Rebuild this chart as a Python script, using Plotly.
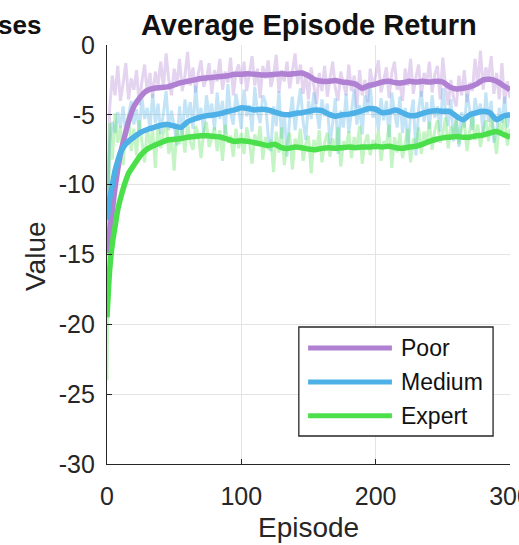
import plotly.graph_objects as go

# ---- data -----------------------------------------------------------------
# smoothed returns (episode grid for the thick curves)
smooth_episodes = [0, 2, 4, 6, 8, 10, 13, 16, 20, 25, 30, 35, 40, 45, 50, 55, 60,
                   65, 70, 75, 80, 85, 90, 95, 100, 105, 110, 115, 120, 125, 130,
                   135, 140, 145, 150, 155, 160, 165, 170, 175, 180, 185, 190, 195,
                   200, 205, 210, 215, 220, 225, 230, 235, 240, 245, 250, 255, 260,
                   265, 270, 275, 280, 285, 290, 295, 300]

poor_smooth = [-14.9, -13.3, -11.8, -10.2, -8.9, -7.8, -6.6, -5.5, -4.4, -3.7, -3.25,
               -3.1, -3.05, -3.0, -2.85, -2.7, -2.6, -2.5, -2.4, -2.35, -2.3, -2.25,
               -2.2, -2.1, -2.1, -2.05, -2.1, -2.15, -2.15, -2.1, -2.05, -2.1, -2.05,
               -2.0, -2.2, -2.5, -2.6, -2.6, -2.55, -2.65, -2.7, -2.8, -3.1, -2.9,
               -2.8, -2.65, -2.6, -2.7, -2.7, -2.6, -2.65, -2.6, -2.65, -2.6, -2.65,
               -3.0, -3.15, -3.1, -3.0, -2.8, -2.5, -2.45, -2.6, -2.9, -3.2]

medium_smooth = [-12.5, -11.0, -10.0, -9.0, -8.3, -7.7, -7.2, -6.9, -6.6, -6.25, -6.05,
                 -5.9, -5.75, -5.7, -5.8, -5.9, -5.5, -5.3, -5.15, -5.05, -5.0, -4.9,
                 -4.75, -4.65, -4.5, -4.55, -4.65, -4.6, -4.65, -4.8, -4.95, -5.0, -4.9,
                 -4.85, -4.75, -4.65, -4.7, -4.95, -5.1, -5.0, -4.95, -4.85, -4.7, -4.55,
                 -4.6, -4.85, -4.8, -4.65, -4.85, -5.05, -5.05, -4.9, -4.75, -4.7, -4.75,
                 -4.75, -5.1, -5.35, -5.0, -4.85, -4.75, -4.85, -5.35, -5.1, -5.0]

expert_smooth = [-19.5, -16.1, -14.2, -13.0, -11.8, -11.0, -10.0, -9.2, -8.6, -7.9, -7.45,
                 -7.2, -7.0, -6.8, -6.75, -6.7, -6.6, -6.55, -6.5, -6.5, -6.55, -6.6,
                 -6.75, -6.9, -6.85, -6.9, -7.0, -7.1, -7.2, -7.1, -7.35, -7.4, -7.3,
                 -7.35, -7.45, -7.5, -7.4, -7.35, -7.4, -7.35, -7.3, -7.35, -7.3, -7.3,
                 -7.25, -7.3, -7.25, -7.35, -7.4, -7.3, -7.25, -7.1, -6.9, -6.75, -6.65,
                 -6.6, -6.55, -6.6, -6.6, -6.5, -6.45, -6.3, -6.2, -6.4, -6.6]

# raw per-episode returns (every second episode, 0..300)
raw_episodes = list(range(0, 301, 2))

poor_raw = [-14.9,
            -4.5, -2.2, -3.6, -1.5, -4.0, -2.8, -1.3, -3.9, -2.4, -3.2,
            -1.8, -4.3, -2.6, -1.4, -3.5, -2.0, -3.8, -1.9, -2.9, -1.2,
            -3.1, -0.6, -2.5, -3.6, -1.7, -2.8, -1.0, -3.3, -2.2, -0.5,
            -2.9, -1.6, -3.4, -2.0, -1.1, -3.0, -2.4, -1.3, -3.5, -1.8,
            -2.6, -1.0, -3.2, -1.9, -2.7, -0.9, -3.6, -2.0, -1.4, -2.8,
            -1.2, -3.3, -2.1, -0.8, -2.9, -1.7, -3.8, -1.5, -2.4, -1.1,
            -3.0, -2.2, -0.7, -3.4, -1.8, -2.6, -1.2, -3.1, -1.9, -0.6,
            -2.8, -1.4, -3.5, -2.1, -3.9, -1.6, -2.9, -4.2, -2.0, -3.3,
            -1.5, -3.7, -2.4, -1.2, -3.1, -4.0, -1.9, -2.7, -3.6, -1.4,
            -3.3, -2.2, -4.5, -1.8, -3.6, -2.5, -4.1, -1.7, -3.0, -2.2,
            -1.1, -3.4, -2.6, -1.6, -3.8, -2.0, -1.2, -3.2, -2.7, -4.0,
            -1.7, -2.9, -1.0, -3.5, -2.3, -1.4, -3.7, -2.0, -2.8, -1.2,
            -3.4, -2.1, -1.5, -3.9, -0.9, -3.0, -4.3, -2.5, -3.8, -4.4,
            -2.2, -3.6, -1.8, -4.1, -2.7, -3.3, -1.0, -2.9, -0.4, -3.2,
            -1.6, -2.4, -0.8, -3.5, -2.0, -3.9, -1.3, -4.2, -2.6, -3.8]

medium_raw = [-12.5,
              -7.0, -5.5, -6.3, -4.8, -5.9, -4.4, -6.5, -5.1, -4.0, -5.7,
              -4.6, -6.2, -3.8, -5.3, -4.5, -6.0, -3.5, -5.6, -4.2, -6.4,
              -5.0, -3.3, -6.1, -4.7, -5.8, -7.2, -4.4, -6.6, -3.9, -5.2,
              -4.1, -6.0, -2.9, -5.4, -4.5, -6.3, -3.6, -5.0, -4.2, -6.1,
              -3.4, -5.3, -4.0, -6.4, -2.8, -4.9, -5.7, -3.5, -4.6, -6.0,
              -3.2, -5.1, -4.3, -6.2, -3.0, -4.8, -5.6, -3.6, -4.1, -6.5,
              -7.6, -4.4, -5.8, -3.3, -6.7, -4.9, -8.0, -5.2, -3.7, -6.1,
              -4.5, -3.1, -5.5, -6.8, -4.0, -5.3, -3.4, -4.8, -6.0, -3.9,
              -5.1, -4.2, -7.1, -5.6, -3.8, -7.8, -4.7, -5.9, -3.5, -6.3,
              -4.6, -3.2, -5.7, -4.3, -6.4, -3.6, -4.9, -3.0, -5.2, -4.4,
              -6.1, -3.8, -5.4, -4.0, -6.6, -3.4, -4.8, -5.9, -3.7, -6.3,
              -4.5, -7.4, -5.0, -3.9, -7.9, -4.6, -3.3, -5.5, -4.1, -6.0,
              -3.6, -5.2, -4.4, -6.2, -3.1, -4.7, -5.8, -3.9, -6.9, -5.3,
              -7.3, -4.8, -5.9, -3.5, -4.6, -6.1, -3.8, -5.0, -4.2, -6.4,
              -3.4, -5.5, -4.0, -7.0, -6.2, -4.5, -5.6, -3.7, -5.9, -4.8]

expert_raw = [-24.0,
              -5.6, -8.2, -4.9, -7.0, -5.8, -8.6, -6.2, -5.0, -7.6, -6.0,
              -7.9, -5.4, -6.8, -8.4, -5.9, -7.2, -6.1, -8.8, -5.7, -7.4,
              -6.3, -5.5, -7.8, -6.6, -9.0, -5.9, -7.1, -6.0, -7.7, -5.6,
              -6.9, -7.5, -5.8, -6.4, -8.1, -6.2, -5.5, -7.3, -6.7, -5.9,
              -7.6, -6.1, -8.3, -5.7, -7.0, -6.5, -8.0, -6.0, -7.4, -6.3,
              -7.8, -5.9, -6.9, -8.5, -6.4, -7.2, -5.8, -8.2, -6.6, -7.5,
              -6.8, -9.1, -6.2, -7.7, -5.9, -8.6, -7.0, -6.3, -8.9, -6.7,
              -7.4, -6.0, -8.3, -7.1, -6.5, -9.2, -6.8, -7.6, -6.1, -8.4,
              -7.0, -6.3, -8.0, -6.7, -7.5, -5.9, -8.7, -6.9, -7.3, -6.2,
              -8.1, -6.6, -7.4, -5.8, -8.5, -7.0, -6.4, -7.9, -6.8, -7.5,
              -6.1, -8.3, -6.9, -7.2, -5.7, -8.8, -6.6, -7.7, -6.3, -8.1,
              -7.0, -6.0, -8.4, -6.7, -7.3, -5.9, -7.8, -6.2, -6.9, -5.5,
              -7.5, -6.1, -5.4, -7.0, -6.3, -5.2, -7.4, -5.8, -6.6, -5.3,
              -7.1, -6.0, -5.5, -7.6, -6.2, -5.0, -6.8, -5.7, -7.3, -6.1,
              -5.4, -6.9, -5.0, -6.5, -7.8, -5.6, -6.3, -4.9, -7.2, -6.0]

series_names = ["Poor", "Medium", "Expert"]
series_colors = ["#B080D2", "#4DB0E6", "#4BE04B"]
x_ticks = [0, 100, 200, 300]
x_tick_labels = ["0", "100", "200", "300"]
y_ticks = [-30, -25, -20, -15, -10, -5, 0]
y_tick_labels = ["-30", "-25", "-20", "-15", "-10", "-5", "0"]

FONT = "Liberation Sans, Arial, Helvetica, sans-serif"
DARK = "#262626"

raws = [poor_raw, medium_raw, expert_raw]
smooths = [poor_smooth, medium_smooth, expert_smooth]

fig = go.Figure()

# faint raw traces underneath
for name, color, ys in zip(series_names, series_colors, raws):
    fig.add_trace(go.Scatter(
        x=raw_episodes, y=ys, mode="lines", name=name + " (raw)",
        line=dict(color=color, width=3), opacity=0.33,
        showlegend=False, hoverinfo="skip"))

# thick smoothed curves on top
for name, color, ys in zip(series_names, series_colors, smooths):
    fig.add_trace(go.Scatter(
        x=smooth_episodes, y=ys, mode="lines", name=name,
        line=dict(color=color, width=5.5, shape="spline", smoothing=0.6),
        showlegend=False))

# hand-built legend box in the lower right of the axes
lg_x0, lg_x1 = 0.476, 0.958
lg_y0, lg_y1 = 0.0668, 0.327
row_y = [0.277, 0.196, 0.115]
shapes = [dict(type="rect", xref="paper", yref="paper",
               x0=lg_x0, x1=lg_x1, y0=lg_y0, y1=lg_y1,
               line=dict(color=DARK, width=1.3), fillcolor="white", layer="above")]
annotations = []
for name, color, yy in zip(series_names, series_colors, row_y):
    shapes.append(dict(type="line", xref="paper", yref="paper",
                       x0=0.499, x1=0.707, y0=yy, y1=yy,
                       line=dict(color=color, width=5), layer="above"))
    annotations.append(dict(xref="paper", yref="paper", x=0.724, y=yy,
                            text=name, showarrow=False, xanchor="left",
                            yanchor="middle",
                            font=dict(family=FONT, size=23, color="#111111")))

# titles and axis labels
annotations += [
    dict(xref="paper", yref="paper", x=0.5, y=1 + 20 / 419, text="<b>Average Episode Return</b>",
         showarrow=False, xanchor="center", yanchor="middle",
         font=dict(family=FONT, size=29, color="#111111")),
    dict(xref="paper", yref="paper", x=(43 - 107) / 403, y=1 + 20 / 419, text="<b>ses</b>",
         showarrow=False, xanchor="right", yanchor="middle",
         font=dict(family=FONT, size=26, color="#111111")),
    dict(xref="paper", yref="paper", x=(35 - 107) / 403, y=1 - (256 - 45) / 419,
         text="Value", textangle=-90, showarrow=False,
         xanchor="center", yanchor="middle",
         font=dict(family=FONT, size=28, color="#262626")),
    dict(xref="paper", yref="paper", x=0.5, y=1 - (527 - 45) / 419,
         text="Episode", showarrow=False, xanchor="center", yanchor="middle",
         font=dict(family=FONT, size=28, color="#262626")),
]

axis_common = dict(
    showgrid=True, gridcolor="#E3E3E3", gridwidth=1,
    showline=True, linecolor=DARK, linewidth=1.2,
    ticks="inside", ticklen=5, tickcolor=DARK, tickwidth=1,
    zeroline=False, automargin=False,
    tickfont=dict(family=FONT, size=25, color="#262626"),
)

fig.update_layout(
    width=519, height=545,
    margin=dict(l=107, r=9, t=45, b=81, pad=0),
    paper_bgcolor="white", plot_bgcolor="white",
    showlegend=False,
    shapes=shapes, annotations=annotations,
    xaxis=dict(range=[0, 300], tickvals=x_ticks, ticktext=x_tick_labels,
               ticklabelstandoff=10, ticklabeloverflow="allow", **axis_common),
    yaxis=dict(range=[-30, 0], tickvals=y_ticks, ticktext=y_tick_labels,
               ticklabelstandoff=6, ticklabeloverflow="allow", **axis_common),
)

fig.write_html("out.html")
